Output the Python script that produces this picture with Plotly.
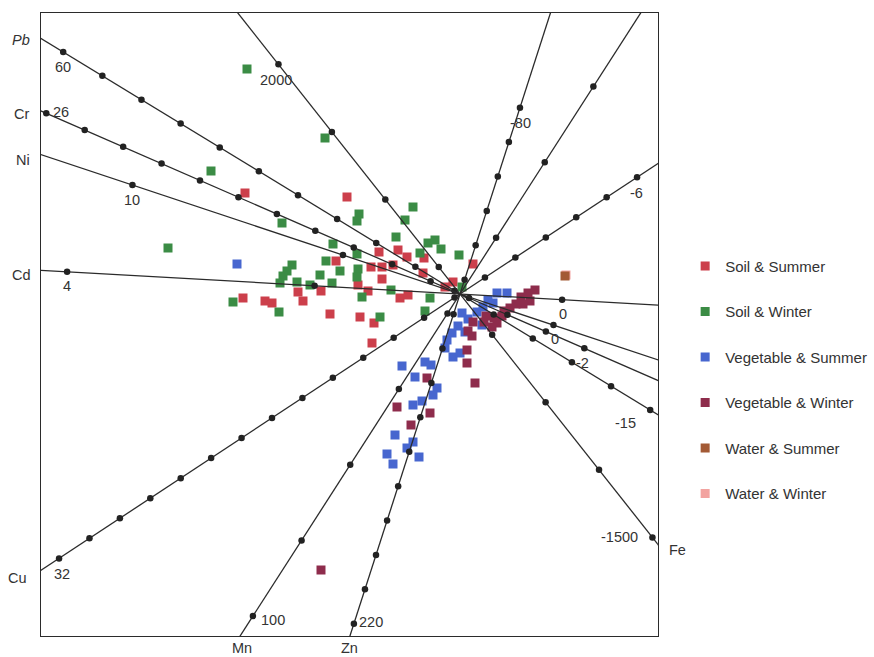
import math
import plotly.graph_objects as go

# ---- sample scores in the biplot plane ----
soil_summer_x = [-215, -113, -124, -81, -62, -53, -36, -89, -78, -67, -78, -37, -217, -195, -188,
                 -162, -157, -139, -102, -92, -60, -52, -130, -100, -86, -88, 13, -7, -15]
soil_summer_y = [101, 97, 33, 42, 44, 37, 36, 27, 27, 29, 15, 21, -4, -7, -9,
                 2, -7, 3, 9, 3, -4, -1, -20, -23, -29, -49, 30, 12, 7]

soil_winter_x = [-213, -135, -249, -292, -101, -103, -178, -47, -55, -64, -127, -103, -32, -25, -19,
                 -40, -168, -173, -177, -180, -134, -120, -102, -103, -163, -150, -140, -128, -98,
                 -227, -181, -69, -30, -35, -80, -1, 2]
soil_winter_y = [225, 156, 123, 46, 80, 73, 71, 87, 74, 57, 50, 40, 51, 54, 45,
                 41, 29, 23, 18, 11, 33, 23, 25, 17, 12, 9, 19, 11, -3,
                 -8, -18, 4, -4, -17, -23, 39, 7]

veg_summer_x = [-223, 28, 37, 47, 33, 23, 17, 2, 8, -2, -8, -13, 5, 22, -15, -7, 0, -58, -35, -29,
                -45, -23, -27, -38, -47, -65, -47, -53, -73, -67, -41]
veg_summer_y = [30, -6, 1, 1, -9, -13, -18, -19, -25, -32, -39, -46, -38, -31, -54, -63, -59, -72, -68, -71,
                -83, -94, -101, -107, -111, -141, -148, -154, -160, -170, -163]

veg_winter_x = [75, 68, 61, 56, 50, 44, 70, 63, 42, 34, 37, 32, 24, 13, 8, 12, 7, 7, 15, -33,
                -30, -49, -63, -139, 26]
veg_winter_y = [4, 1, -3, -10, -14, -17, -7, -10, -22, -24, -29, -33, -28, -28, -37, -42, -56, -69, -89, -84,
                -119, -131, -113, -276, -22]

water_summer_x = [105]
water_summer_y = [18]
water_winter_x = [106]
water_winter_y = [19]

# ---- calibrated variable axes ----
axis_names = ["Pb", "Cr", "Ni", "Cd", "Cu", "Mn", "Zn", "Fe"]
axis_angle_deg = [148.62, 156.4, 161.6, 176.76, 213.4, 237.26, 252.16, 128.33]   # direction of increase
axis_len_per_unit = [9.167, 20.97, 44.37, 123.95, 18.22, 4.496, 1.807, 0.1723]
axis_value_at_origin = [9.3, 4.47, 2.22, 0.825, 5.64, 14.85, 28.3, 301.0]
axis_tick_low = [-15, -2, 0, 0, -6, -60, -80, -1500]
axis_tick_high = [60, 26, 10, 4, 32, 100, 220, 2000]
axis_tick_step = [5, 2, 5, 2, 2, 20, 20, 500]

# ---- styling ----
X_RANGE = [-419, 198]
Y_RANGE = [-342, 281]
AXIS_COLOR = "#2b2b2b"
TEXT_COLOR = "#333333"
FONT = "Liberation Sans, Arial, sans-serif"
LABEL_SIZE = 14.5

# pixel offsets (right, down) of the end labels: high value, low value
high_label_offset = {"Pb": (0, 15), "Cr": (15, -1), "Ni": (0, 15), "Cd": (0, 14),
                     "Cu": (3, 16), "Mn": (20, 4), "Zn": (17, -2), "Fe": (-2, 16)}
low_label_offset = {"Pb": (-25, 13), "Cr": (-2, 15), "Ni": (2, 14), "Cd": (1, 14),
                    "Cu": (-1, 16), "Mn": (2, 16), "Zn": (1, 15), "Fe": (-33, 0)}
# variable name placed at the high end (+1) or the low end (-1) of its axis
name_side = {"Pb": 1, "Cr": 1, "Ni": 1, "Cd": 1, "Cu": 1, "Mn": 1, "Zn": 1, "Fe": -1}
name_offset = {"Pb": (-20, 2), "Cr": (-20, 3), "Ni": (-18, 5), "Cd": (-20, 5),
               "Cu": (-24, 8), "Mn": (2, 12), "Zn": (0, 12), "Fe": (19, 6)}

fig = go.Figure()

groups = [
    ("Soil & Summer", soil_summer_x, soil_summer_y, "#cc3f4b"),
    ("Soil & Winter", soil_winter_x, soil_winter_y, "#3b8c45"),
    ("Vegetable & Summer", veg_summer_x, veg_summer_y, "#4766cf"),
    ("Vegetable & Winter", veg_winter_x, veg_winter_y, "#8e2c4c"),
    ("Water & Summer", water_summer_x, water_summer_y, "#a35a35"),
    ("Water & Winter", water_winter_x, water_winter_y, "#f2a3a0"),
]
# the two water samples sit on top of each other; draw winter first
draw_order = [0, 1, 2, 3, 5, 4]
for i in draw_order:
    name, xs, ys, col = groups[i]
    fig.add_trace(go.Scatter(
        x=xs, y=ys, mode="markers", name=name, legendgroup=name, legendrank=i + 1,
        marker=dict(symbol="square", size=9, color=col, line=dict(width=0)),
        hoverinfo="skip",
    ))


def exit_distance(ux, uy):
    """Distance from the origin along (ux, uy) to the plot frame."""
    ts = []
    if ux > 1e-9:
        ts.append(X_RANGE[1] / ux)
    if ux < -1e-9:
        ts.append(X_RANGE[0] / ux)
    if uy > 1e-9:
        ts.append(Y_RANGE[1] / uy)
    if uy < -1e-9:
        ts.append(Y_RANGE[0] / uy)
    return min(ts)


annotations = []
for k, nm in enumerate(axis_names):
    a = math.radians(axis_angle_deg[k])
    ux, uy = math.cos(a), math.sin(a)
    L = 2000
    fig.add_trace(go.Scatter(
        x=[-L * ux, L * ux], y=[-L * uy, L * uy], mode="lines",
        line=dict(color=AXIS_COLOR, width=1.3), showlegend=False, hoverinfo="skip",
    ))
    vals = []
    v = axis_tick_low[k]
    while v <= axis_tick_high[k] + 1e-9:
        vals.append(v)
        v += axis_tick_step[k]
    tx = [(val - axis_value_at_origin[k]) * axis_len_per_unit[k] * ux for val in vals]
    ty = [(val - axis_value_at_origin[k]) * axis_len_per_unit[k] * uy for val in vals]
    fig.add_trace(go.Scatter(
        x=tx, y=ty, mode="markers", cliponaxis=False,
        marker=dict(symbol="circle", size=6.5, color="#222222", line=dict(width=0)),
        showlegend=False, hoverinfo="skip",
    ))
    for val, off in ((axis_tick_high[k], high_label_offset[nm]), (axis_tick_low[k], low_label_offset[nm])):
        d = (val - axis_value_at_origin[k]) * axis_len_per_unit[k]
        annotations.append(dict(
            x=d * ux, y=d * uy, xref="x", yref="y", text=str(val), showarrow=False,
            xshift=off[0], yshift=-off[1], font=dict(family=FONT, size=LABEL_SIZE, color=TEXT_COLOR),
        ))
    s = name_side[nm]
    t = exit_distance(s * ux, s * uy)
    label = "<i>Pb</i>" if nm == "Pb" else nm
    annotations.append(dict(
        x=s * t * ux, y=s * t * uy, xref="x", yref="y", text=label, showarrow=False,
        xshift=name_offset[nm][0], yshift=-name_offset[nm][1],
        font=dict(family=FONT, size=LABEL_SIZE, color=TEXT_COLOR),
    ))

axis_style = dict(showgrid=False, zeroline=False, showticklabels=False, ticks="",
                  showline=True, mirror=True, linecolor="#2b2b2b", linewidth=1.3, fixedrange=True)

fig.update_layout(
    width=874, height=657,
    margin=dict(l=41, r=216, t=13, b=21, autoexpand=False),
    paper_bgcolor="white", plot_bgcolor="white",
    xaxis=dict(range=X_RANGE, **axis_style),
    yaxis=dict(range=Y_RANGE, **axis_style),
    annotations=annotations,
    showlegend=True,
    legend=dict(x=1.044, xanchor="left", y=0.62, yanchor="top",
                font=dict(family=FONT, size=15, color=TEXT_COLOR),
                tracegroupgap=23, bgcolor="rgba(0,0,0,0)", itemclick=False),
    font=dict(family=FONT),
)

fig.write_html("out.html")
